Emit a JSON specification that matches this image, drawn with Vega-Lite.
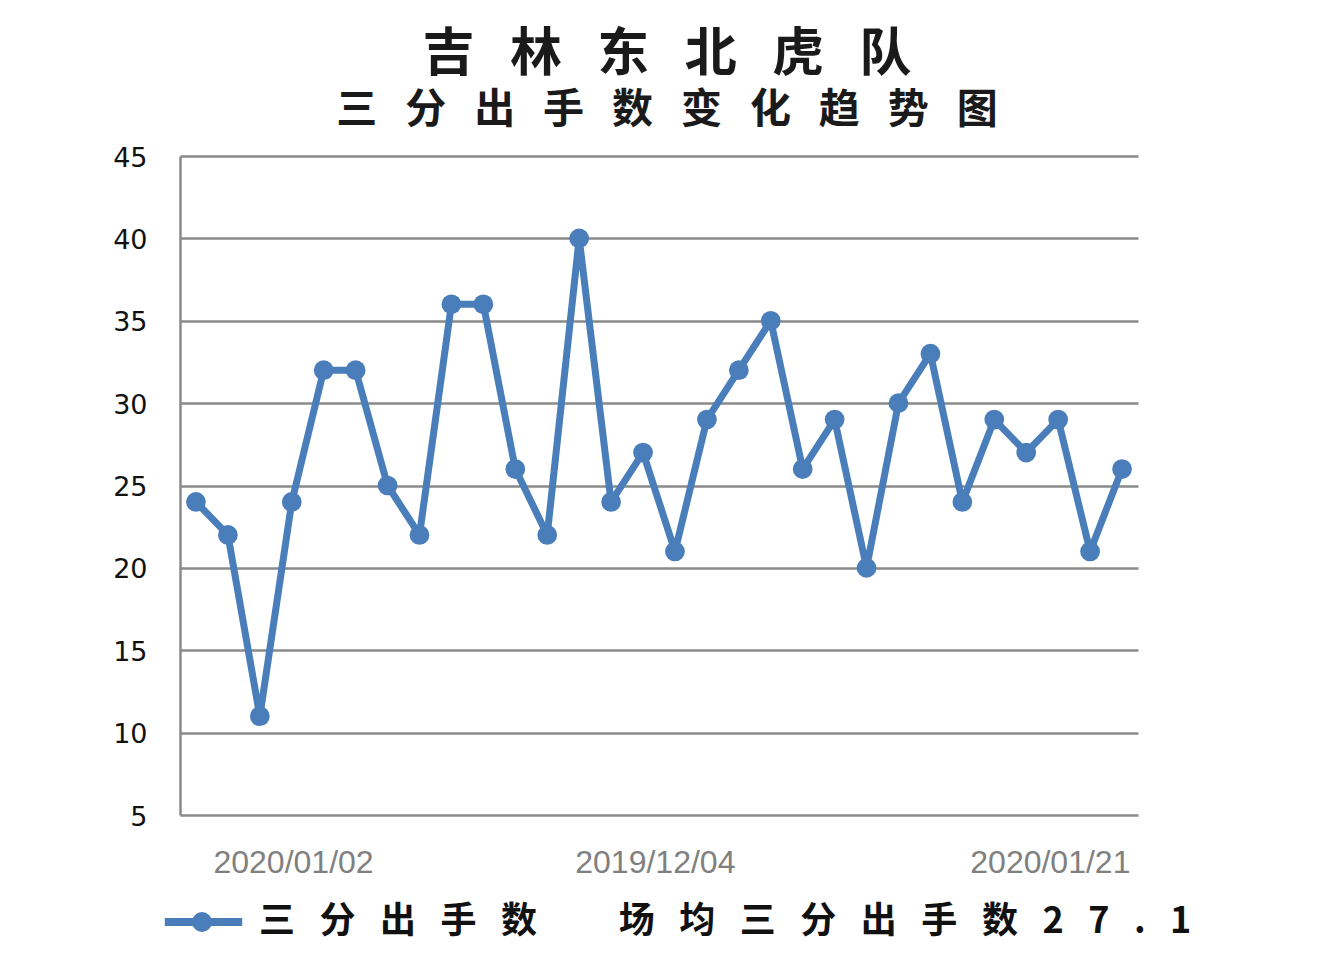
{
  "$schema": "https://vega.github.io/schema/vega-lite/v6.json",
  "autosize": {"type": "none"},
  "padding": {"left": 180, "top": 156, "right": 198, "bottom": 160},
  "width": 958,
  "height": 659,
  "background": "white",
  "view": {"stroke": null},
  "title": {
    "text": "吉\u00a0\u00a0\u00a0林\u00a0\u00a0\u00a0东\u00a0\u00a0\u00a0北\u00a0\u00a0\u00a0虎\u00a0\u00a0\u00a0队",
    "subtitle": "三\u00a0\u00a0\u00a0分\u00a0\u00a0\u00a0出\u00a0\u00a0\u00a0手\u00a0\u00a0\u00a0数\u00a0\u00a0\u00a0变\u00a0\u00a0\u00a0化\u00a0\u00a0\u00a0趋\u00a0\u00a0\u00a0势\u00a0\u00a0\u00a0图",
    "font": "Noto Sans CJK SC",
    "fontSize": 52,
    "fontWeight": "bold",
    "color": "#1a1a1a",
    "subtitleFont": "Noto Sans CJK SC",
    "subtitleFontSize": 41,
    "subtitleFontWeight": "bold",
    "subtitleColor": "#1a1a1a",
    "subtitlePadding": 9,
    "anchor": "middle",
    "frame": "group",
    "dx": 8,
    "offset": 12
  },
  "data": {
    "values": [
      {"game": 1, "value": 24, "series": "三分出手数"},
      {"game": 2, "value": 22, "series": "三分出手数"},
      {"game": 3, "value": 11, "series": "三分出手数"},
      {"game": 4, "value": 24, "series": "三分出手数"},
      {"game": 5, "value": 32, "series": "三分出手数"},
      {"game": 6, "value": 32, "series": "三分出手数"},
      {"game": 7, "value": 25, "series": "三分出手数"},
      {"game": 8, "value": 22, "series": "三分出手数"},
      {"game": 9, "value": 36, "series": "三分出手数"},
      {"game": 10, "value": 36, "series": "三分出手数"},
      {"game": 11, "value": 26, "series": "三分出手数"},
      {"game": 12, "value": 22, "series": "三分出手数"},
      {"game": 13, "value": 40, "series": "三分出手数"},
      {"game": 14, "value": 24, "series": "三分出手数"},
      {"game": 15, "value": 27, "series": "三分出手数"},
      {"game": 16, "value": 21, "series": "三分出手数"},
      {"game": 17, "value": 29, "series": "三分出手数"},
      {"game": 18, "value": 32, "series": "三分出手数"},
      {"game": 19, "value": 35, "series": "三分出手数"},
      {"game": 20, "value": 26, "series": "三分出手数"},
      {"game": 21, "value": 29, "series": "三分出手数"},
      {"game": 22, "value": 20, "series": "三分出手数"},
      {"game": 23, "value": 30, "series": "三分出手数"},
      {"game": 24, "value": 33, "series": "三分出手数"},
      {"game": 25, "value": 24, "series": "三分出手数"},
      {"game": 26, "value": 29, "series": "三分出手数"},
      {"game": 27, "value": 27, "series": "三分出手数"},
      {"game": 28, "value": 29, "series": "三分出手数"},
      {"game": 29, "value": 21, "series": "三分出手数"},
      {"game": 30, "value": 26, "series": "三分出手数"}
    ]
  },
  "encoding": {
    "x": {
      "field": "game",
      "type": "quantitative",
      "scale": {"domain": [0.5, 30.5], "nice": false, "zero": false},
      "axis": {
        "title": null,
        "values": [4.04, 15.37, 27.74],
        "labelExpr": "datum.value < 10 ? '2020/01/02' : (datum.value < 20 ? '2019/12/04' : '2020/01/21')",
        "domain": false,
        "ticks": false,
        "grid": false,
        "labelFont": "Liberation Sans",
        "labelFontSize": 32,
        "labelColor": "#808080",
        "labelPadding": 32,
        "labelAlign": "center"
      }
    },
    "y": {
      "field": "value",
      "type": "quantitative",
      "scale": {"domain": [5, 45], "nice": false, "zero": false},
      "axis": {
        "title": null,
        "values": [5, 10, 15, 20, 25, 30, 35, 40, 45],
        "grid": true,
        "gridColor": "#8a8a8a",
        "gridWidth": 2.5,
        "domain": true,
        "domainColor": "#8a8a8a",
        "domainWidth": 2.5,
        "ticks": false,
        "labelFont": "DejaVu Sans",
        "labelFontSize": 27,
        "labelColor": "#111111",
        "labelPadding": 33,
        "labelBaseline": "middle",
        "labelOffset": 2
      }
    },
    "color": {
      "field": "series",
      "type": "nominal",
      "scale": {"range": ["#4a7ebb"]},
      "legend": {
        "orient": "none",
        "legendX": 10,
        "legendY": 748,
        "title": null,
        "padding": 0,
        "labelExpr": "'三\u00a0\u00a0\u00a0分\u00a0\u00a0\u00a0出\u00a0\u00a0\u00a0手\u00a0\u00a0\u00a0数\u00a0\u00a0\u00a0\u00a0\u00a0\u00a0\u00a0\u00a0\u00a0\u00a0场\u00a0\u00a0\u00a0均\u00a0\u00a0\u00a0三\u00a0\u00a0\u00a0分\u00a0\u00a0\u00a0出\u00a0\u00a0\u00a0手\u00a0\u00a0\u00a0数\u00a0\u00a0\u00a02\u00a0\u00a0\u00a07\u00a0\u00a0\u00a0.\u00a0\u00a0\u00a01'",
        "labelFont": "Noto Sans CJK SC",
        "labelFontSize": 36,
        "labelFontWeight": "bold",
        "labelColor": "#111111",
        "labelLimit": 3000,
        "labelOffset": 33,
        "symbolSize": 576,
        "symbolType": "M-3.6,0H2.85M-1,0A0.5,0.5,0,1,0,0,0A0.5,0.5,0,1,0,-1,0Z",
        "symbolStrokeWidth": 8,
        "encode": {
          "symbols": {
            "update": {
              "fill": {"value": "#4a7ebb"},
              "stroke": {"value": "#4a7ebb"},
              "strokeWidth": {"value": 8},
              "shape": {"value": "M-3.6,0H2.85M-1,0A0.5,0.5,0,1,0,0,0A0.5,0.5,0,1,0,-1,0Z"},
              "size": {"value": 576},
              "opacity": {"value": 1}
            }
          }
        }
      }
    }
  },
  "layer": [
    {"mark": {"type": "line", "strokeWidth": 7, "strokeJoin": "round"}},
    {"mark": {"type": "point", "filled": true, "size": 390, "opacity": 1, "shape": "circle"}}
  ]
}
